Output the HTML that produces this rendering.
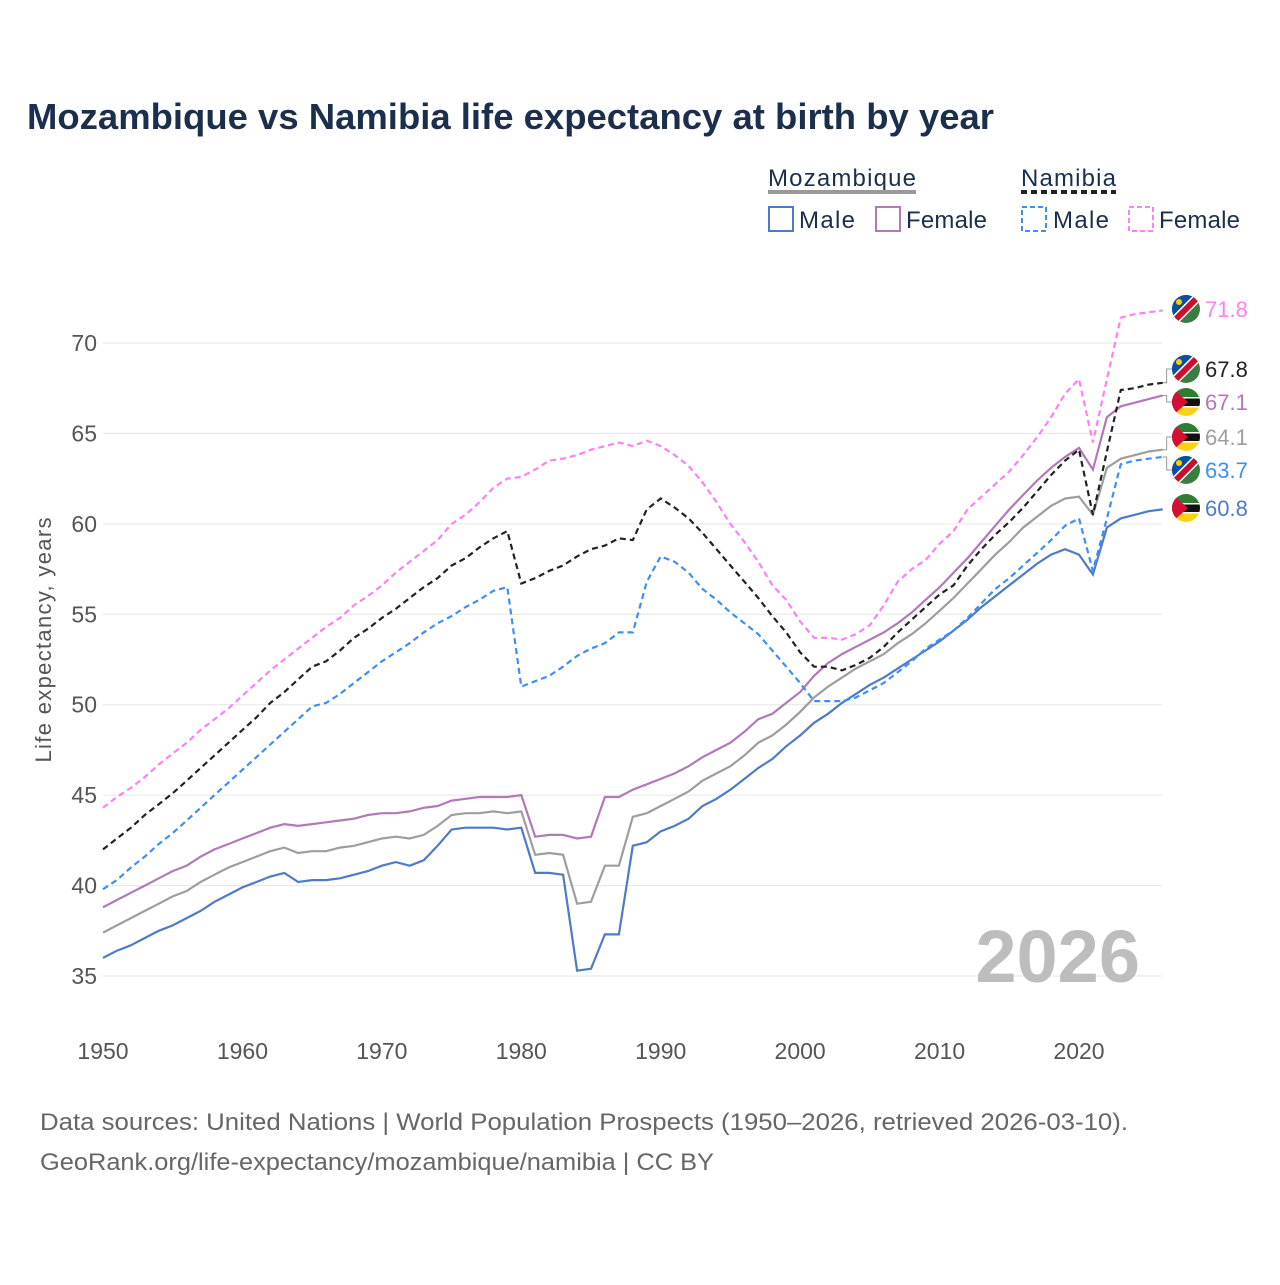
<!DOCTYPE html>
<html><head><meta charset="utf-8"><style>
body{margin:0;background:#fff;font-family:"Liberation Sans",sans-serif;}
svg text{font-family:"Liberation Sans",sans-serif;}
</style></head><body>
<svg id="c" width="1280" height="1280" viewBox="0 0 1280 1280">
<text x="27" y="129" font-size="36" font-weight="bold" fill="#1b2f4d" textLength="967" lengthAdjust="spacingAndGlyphs">Mozambique vs Namibia life expectancy at birth by year</text>
<g font-size="24" fill="#1b2f4d">
<text x="768" y="186" textLength="148">Mozambique</text>
<line x1="768" y1="192" x2="916" y2="192" stroke="#999" stroke-width="4"/>
<text x="1021" y="186" textLength="95">Namibia</text>
<line x1="1021" y1="192" x2="1116" y2="192" stroke="#222" stroke-width="4" stroke-dasharray="6,4"/>
<rect x="769" y="207" width="24" height="24" fill="none" stroke="#4f7ac9" stroke-width="2"/>
<text x="799" y="228" textLength="56">Male</text>
<rect x="876" y="207" width="24" height="24" fill="none" stroke="#b07ab5" stroke-width="2"/>
<text x="906" y="228" textLength="81">Female</text>
<rect x="1022" y="207" width="24" height="24" fill="none" stroke="#3f8ef5" stroke-width="2" stroke-dasharray="5,3"/>
<text x="1053" y="228" textLength="56">Male</text>
<rect x="1129" y="207" width="24" height="24" fill="none" stroke="#ff80f0" stroke-width="2" stroke-dasharray="5,3"/>
<text x="1159" y="228" textLength="81">Female</text>
</g>
<g id="grid"></g><g id="axes"></g>
<text x="1140" y="982" font-size="74" font-weight="bold" fill="#bdbdbd" text-anchor="end">2026</text>
<text transform="translate(51,640) rotate(-90)" font-size="22" fill="#555" text-anchor="middle" textLength="245">Life expectancy, years</text>
<g id="series"></g><g id="labels"></g>
<text x="40" y="1130" font-size="24" fill="#666" textLength="1088" lengthAdjust="spacingAndGlyphs">Data sources: United Nations | World Population Prospects (1950–2026, retrieved 2026-03-10).</text>
<text x="40" y="1170" font-size="24" fill="#666" textLength="674" lengthAdjust="spacingAndGlyphs">GeoRank.org/life-expectancy/mozambique/namibia | CC BY</text>
</svg>
<script>
const years=[];for(let y=1950;y<=2026;y++)years.push(y);
const yTicks=[35,40,45,50,55,60,65,70];
const xTicks=[1950,1960,1970,1980,1990,2000,2010,2020];
const namFemale=[44.3,44.9,45.4,46.0,46.7,47.3,47.9,48.6,49.2,49.8,50.5,51.2,51.9,52.5,53.1,53.7,54.3,54.8,55.5,56.0,56.6,57.3,57.9,58.5,59.1,60.0,60.5,61.2,62.0,62.5,62.6,63.0,63.5,63.6,63.8,64.1,64.3,64.5,64.3,64.6,64.3,63.8,63.2,62.3,61.2,60.0,59.0,57.9,56.6,55.8,54.6,53.7,53.7,53.6,53.9,54.4,55.5,56.8,57.5,58.0,58.9,59.6,60.8,61.5,62.2,62.9,63.8,64.8,65.9,67.2,68.0,64.5,68.0,71.4,71.6,71.7,71.8];
const namTotal=[42.0,42.6,43.2,43.9,44.5,45.1,45.8,46.5,47.2,47.9,48.6,49.3,50.1,50.7,51.4,52.1,52.4,53.0,53.7,54.2,54.8,55.3,55.9,56.5,57.0,57.7,58.1,58.7,59.2,59.6,56.7,57.0,57.4,57.7,58.2,58.6,58.8,59.2,59.1,60.8,61.4,60.9,60.3,59.5,58.6,57.7,56.8,55.9,54.9,54.0,52.9,52.1,52.1,51.9,52.2,52.6,53.2,54.0,54.7,55.4,56.1,56.6,57.7,58.6,59.4,60.1,60.9,61.8,62.7,63.5,64.1,60.5,64.0,67.4,67.5,67.7,67.8];
const namMale=[39.8,40.3,41.0,41.6,42.3,42.9,43.6,44.3,45.0,45.7,46.4,47.1,47.8,48.5,49.2,49.9,50.1,50.6,51.2,51.8,52.4,52.9,53.4,54.0,54.5,54.9,55.4,55.8,56.3,56.5,51.0,51.3,51.6,52.1,52.7,53.1,53.4,54.0,54.0,56.8,58.2,57.9,57.3,56.4,55.8,55.1,54.5,53.9,53.0,52.1,51.2,50.2,50.2,50.2,50.4,50.8,51.2,51.8,52.4,53.1,53.6,54.1,54.8,55.6,56.4,57.0,57.7,58.4,59.1,59.9,60.3,57.4,60.3,63.3,63.5,63.6,63.7];
const mozFemale=[38.8,39.2,39.6,40.0,40.4,40.8,41.1,41.6,42.0,42.3,42.6,42.9,43.2,43.4,43.3,43.4,43.5,43.6,43.7,43.9,44.0,44.0,44.1,44.3,44.4,44.7,44.8,44.9,44.9,44.9,45.0,42.7,42.8,42.8,42.6,42.7,44.9,44.9,45.3,45.6,45.9,46.2,46.6,47.1,47.5,47.9,48.5,49.2,49.5,50.1,50.7,51.6,52.3,52.8,53.2,53.6,54.0,54.5,55.1,55.8,56.5,57.3,58.1,59.0,59.9,60.8,61.6,62.4,63.1,63.7,64.2,63.0,65.9,66.5,66.7,66.9,67.1];
const mozTotal=[37.4,37.8,38.2,38.6,39.0,39.4,39.7,40.2,40.6,41.0,41.3,41.6,41.9,42.1,41.8,41.9,41.9,42.1,42.2,42.4,42.6,42.7,42.6,42.8,43.3,43.9,44.0,44.0,44.1,44.0,44.1,41.7,41.8,41.7,39.0,39.1,41.1,41.1,43.8,44.0,44.4,44.8,45.2,45.8,46.2,46.6,47.2,47.9,48.3,48.9,49.6,50.4,51.0,51.5,52.0,52.4,52.8,53.4,53.9,54.5,55.2,55.9,56.7,57.5,58.3,59.0,59.8,60.4,61.0,61.4,61.5,60.5,63.1,63.6,63.8,64.0,64.1];
const mozMale=[36.0,36.4,36.7,37.1,37.5,37.8,38.2,38.6,39.1,39.5,39.9,40.2,40.5,40.7,40.2,40.3,40.3,40.4,40.6,40.8,41.1,41.3,41.1,41.4,42.2,43.1,43.2,43.2,43.2,43.1,43.2,40.7,40.7,40.6,35.3,35.4,37.3,37.3,42.2,42.4,43.0,43.3,43.7,44.4,44.8,45.3,45.9,46.5,47.0,47.7,48.3,49.0,49.5,50.1,50.6,51.1,51.5,52.0,52.5,53.0,53.5,54.1,54.7,55.4,56.0,56.6,57.2,57.8,58.3,58.6,58.3,57.2,59.8,60.3,60.5,60.7,60.8];
const NS="http://www.w3.org/2000/svg";
const X=y=>103+(y-1950)*(1079-103)/70;
const Y=v=>343+(70-v)*(976-343)/35;
function mk(t,a,p){const e=document.createElementNS(NS,t);for(const k in a)e.setAttribute(k,a[k]);p.appendChild(e);return e;}
const grid=document.getElementById('grid'),axes=document.getElementById('axes');
yTicks.forEach(v=>{
 const l=mk('line',{x1:103,x2:1162,y1:Y(v),y2:Y(v),stroke:'#e6e6e6','stroke-width':1},grid);
 
 
 const t=mk('text',{x:97,y:Y(v)+8,'font-size':23,fill:'#555','text-anchor':'end'},axes);
 t.textContent=v;
 
 
});
xTicks.forEach(v=>{
 const t=mk('text',{x:X(v),y:1059,'font-size':23,fill:'#555','text-anchor':'middle'},axes);
 t.textContent=v;
 
 
});
const series=[
 {d:mozTotal,c:'#9e9e9e',dash:'',n:'line-mozambique-total',ly:437,flag:'moz'},
 {d:mozMale,c:'#4f7ac9',dash:'',n:'line-mozambique-male',ly:508,flag:'moz'},
 {d:mozFemale,c:'#b07ab5',dash:'',n:'line-mozambique-female',ly:402,flag:'moz'},
 {d:namMale,c:'#3f8ef5',dash:'6,4',n:'line-namibia-male',ly:470,flag:'nam'},
 {d:namFemale,c:'#ff80f0',dash:'6,4',n:'line-namibia-female',ly:309,flag:'nam'},
 {d:namTotal,c:'#222',dash:'6,4',n:'line-namibia-total',ly:369,flag:'nam'}];
const sg=document.getElementById('series'),lg=document.getElementById('labels');
series.forEach(s=>{
 const pts=s.d.map((v,i)=>X(years[i]).toFixed(1)+','+Y(v).toFixed(1)).join(' ');
 const p=mk('polyline',{points:pts,fill:'none',stroke:s.c,'stroke-width':2.2,'stroke-dasharray':s.dash},sg);
 
 
 const last=s.d[s.d.length-1],ey=Y(last),ex=X(2026);
 if(Math.abs(ey-s.ly)>4){mk('polyline',{points:`${ex},${ey} ${ex+4},${ey} ${ex+4},${s.ly} ${ex+10},${s.ly}`,fill:'none',stroke:'#999','stroke-width':1},lg);}
 const g=mk('g',{transform:`translate(1186,${s.ly})`},lg);
 
 
 mk('clipPath',{id:'cp'+s.n},g);
 g.lastChild.appendChild(document.createElementNS(NS,'circle')).setAttribute('r','14');
 const f=mk('g',{'clip-path':`url(#cp${s.n})`},g);
 if(s.flag==='nam'){
  mk('rect',{x:-14,y:-14,width:28,height:28,fill:'#3a7d44'},f);
  mk('polygon',{points:'-14,-14 14,-14 -14,14',fill:'#0b4ea2'},f);
  mk('line',{x1:-16,y1:16,x2:16,y2:-16,stroke:'#fff','stroke-width':9},f);
  mk('line',{x1:-16,y1:16,x2:16,y2:-16,stroke:'#c8102e','stroke-width':6},f);
  mk('circle',{cx:-7,cy:-7,r:3,fill:'#ffce00'},f);
 }else{
  mk('rect',{x:-14,y:-14,width:28,height:10,fill:'#2e7d32'},f);
  mk('rect',{x:-14,y:-4,width:28,height:8,fill:'#111'},f);
  mk('rect',{x:-14,y:4,width:28,height:10,fill:'#fcd116'},f);
  mk('rect',{x:-14,y:-5,width:28,height:1.5,fill:'#fff'},f);
  mk('rect',{x:-14,y:4,width:28,height:1.5,fill:'#fff'},f);
  mk('polygon',{points:'-14,-14 2,0 -14,14',fill:'#d21034'},f);
 }
 const t=mk('text',{x:1205,y:s.ly+8,'font-size':22,fill:s.c},lg);
 t.textContent=last.toFixed(1);
 
 
});
</script>
</body></html>
